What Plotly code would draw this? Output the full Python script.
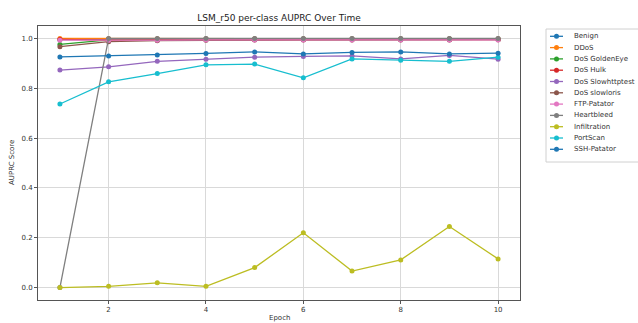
import plotly.graph_objects as go

epochs = [1, 2, 3, 4, 5, 6, 7, 8, 9, 10]
class_names = ["Benign", "DDoS", "DoS GoldenEye", "DoS Hulk", "DoS Slowhttptest",
               "DoS slowloris", "FTP-Patator", "Heartbleed", "Infiltration", "PortScan", "SSH-Patator"]

benign = [0.995, 0.998, 0.998, 0.999, 0.999, 0.999, 0.999, 0.999, 0.999, 0.999]
ddos = [1.000, 0.999, 0.999, 0.999, 0.999, 0.999, 0.999, 0.999, 0.999, 0.999]
dos_goldeneye = [0.976, 0.994, 0.995, 0.995, 0.996, 0.996, 0.996, 0.996, 0.996, 0.996]
dos_hulk = [0.996, 0.993, 0.994, 0.995, 0.995, 0.995, 0.995, 0.995, 0.995, 0.995]
dos_slowhttptest = [0.873, 0.886, 0.908, 0.917, 0.925, 0.928, 0.930, 0.918, 0.932, 0.917]
dos_slowloris = [0.967, 0.987, 0.991, 0.993, 0.994, 0.994, 0.994, 0.994, 0.994, 0.995]
ftp_patator = [0.993, 0.992, 0.993, 0.994, 0.994, 0.994, 0.994, 0.994, 0.994, 0.994]
heartbleed = [0.000, 1.000, 1.000, 1.000, 1.000, 1.000, 1.000, 1.000, 1.000, 1.000]
infiltration = [0.000, 0.005, 0.019, 0.005, 0.080, 0.220, 0.066, 0.111, 0.245, 0.115]
portscan = [0.737, 0.826, 0.859, 0.894, 0.897, 0.842, 0.918, 0.912, 0.908, 0.925]
ssh_patator = [0.926, 0.930, 0.934, 0.940, 0.946, 0.938, 0.944, 0.946, 0.938, 0.941]

series = [benign, ddos, dos_goldeneye, dos_hulk, dos_slowhttptest, dos_slowloris,
          ftp_patator, heartbleed, infiltration, portscan, ssh_patator]
colors = ["#1f77b4", "#ff7f0e", "#2ca02c", "#d62728", "#9467bd", "#8c564b",
          "#e377c2", "#7f7f7f", "#bcbd22", "#17becf", "#1f77b4"]

W, H = 638, 323
ML, MR, MT, MB = 38, 118, 26, 23
PW, PH = W - ML - MR, H - MT - MB


def px_x(px):
    return (px - ML) / PW


def px_y(py):
    return (H - MB - py) / PH


fig = go.Figure()
for name, vals, c in zip(class_names, series, colors):
    fig.add_trace(go.Scatter(x=epochs, y=vals, mode="lines+markers", name=name,
                             line=dict(color=c, width=1.3),
                             marker=dict(color=c, size=5), showlegend=False))

# compact legend drawn with shapes/annotations (matplotlib-like spacing)
shapes = [dict(type="rect", xref="paper", yref="paper",
               x0=px_x(546), x1=px_x(645), y0=px_y(162), y1=px_y(29),
               line=dict(color="#d0d0d0", width=1), fillcolor="white", layer="below")]
annotations = []
top_y, step = 36.3, 11.3
for i, (name, c) in enumerate(zip(class_names, colors)):
    py = top_y + i * step
    shapes.append(dict(type="line", xref="paper", yref="paper",
                       x0=px_x(550), x1=px_x(563), y0=px_y(py), y1=px_y(py),
                       line=dict(color=c, width=1.3)))
    shapes.append(dict(type="circle", xref="paper", yref="paper",
                       xsizemode="pixel", ysizemode="pixel",
                       xanchor=px_x(556.5), yanchor=px_y(py),
                       x0=-2.5, x1=2.5, y0=-2.5, y1=2.5,
                       line=dict(color=c, width=0), fillcolor=c))
    annotations.append(dict(text=name, xref="paper", yref="paper",
                            x=px_x(572), y=px_y(py), xanchor="left", yanchor="middle",
                            showarrow=False, font=dict(size=7, color="#333")))

# axis titles as annotations to keep the plot area fixed
annotations.append(dict(text="Epoch", xref="paper", yref="paper", x=0.5, y=px_y(318),
                        xanchor="center", yanchor="middle", showarrow=False,
                        font=dict(size=7, color="#333")))
annotations.append(dict(text="AUPRC Score", xref="paper", yref="paper", x=px_x(12), y=0.5,
                        xanchor="center", yanchor="middle", showarrow=False, textangle=-90,
                        font=dict(size=7, color="#333")))

axis_common = dict(showgrid=True, gridcolor="#d9d9d9", gridwidth=1,
                   showline=True, linecolor="#555", linewidth=1, mirror=True,
                   ticks="outside", ticklen=3, tickcolor="#555", automargin=False,
                   tickfont=dict(size=7, color="#333"), zeroline=False)

fig.update_layout(
    width=W, height=H,
    margin=dict(l=ML, r=MR, t=MT, b=MB, autoexpand=False),
    paper_bgcolor="white", plot_bgcolor="white",
    font=dict(family="DejaVu Sans", color="#222"),
    title=dict(text="LSM_r50 per-class AUPRC Over Time", x=px_x(279), xanchor="center",
               xref="paper", y=1 - 18 / H, yanchor="middle", font=dict(size=9, color="#222")),
    xaxis=dict(range=[0.55, 10.45], tickvals=[2, 4, 6, 8, 10], **axis_common),
    yaxis=dict(range=[-0.05, 1.05], tickvals=[0, 0.2, 0.4, 0.6, 0.8, 1.0], tickformat=".1f",
               **axis_common),
    shapes=shapes,
    annotations=annotations,
    showlegend=False,
)

fig.write_html("out.html")
